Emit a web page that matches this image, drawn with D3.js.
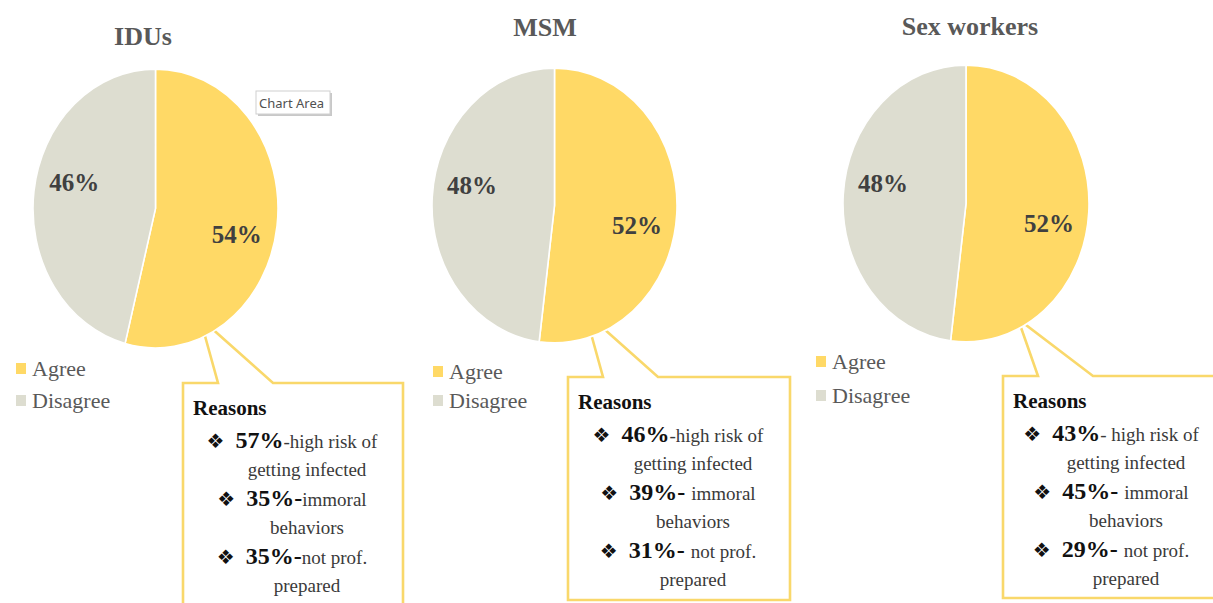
<!DOCTYPE html>
<html>
<head>
<meta charset="utf-8">
<script src="https://cdn.jsdelivr.net/npm/d3@7"></script>
<style>
  html, body { margin: 0; padding: 0; background: #fff; }
  svg { display: block; }
</style>
</head>
<body>
<svg id="chart" width="1213" height="603"></svg>
<script>
// ---- data ----
const groups = ["IDUs", "MSM", "Sex workers"];
const categories = ["Agree", "Disagree"];
const agreeValues = [54, 52, 52];
const disagreeValues = [46, 48, 48];

const reasonTitle = "Reasons";
// each reason wrapped onto two lines
const reasonLines = [
  ["high risk of", "getting infected"],
  ["immoral", "behaviors"],
  ["not prof.", "prepared"]
];
const reasonValues = [
  [57, 35, 35],
  [46, 39, 31],
  [43, 45, 29]
];

// ---- layout (per panel) ----
const panels = [
  { cx: 155.5, cy: 208.5, rx: 122.5, ry: 139.5, titleX: 143, titleY: 45,
    legX: 16, legY: [376, 408],
    box: { x: 183, y: 383, w: 220, h: 240, tip: [200, 318] },
    sep: ["-", "-", "-"], sepBold: [false, true, true] },
  { cx: 554.5, cy: 205.5, rx: 122.5, ry: 137.5, titleX: 545, titleY: 36,
    legX: 433, legY: [379, 408],
    box: { x: 568, y: 377, w: 222, h: 223, tip: [585, 312] },
    sep: ["-", "- ", "- "], sepBold: [false, true, true] },
  { cx: 966, cy: 203.5, rx: 123, ry: 138.5, titleX: 970, titleY: 35,
    legX: 816, legY: [369, 403],
    box: { x: 1003, y: 376, w: 218, h: 222, tip: [1018, 319] },
    sep: ["- ", "- ", "- "], sepBold: [false, true, true] }
];

const color = d3.scaleOrdinal().domain(categories).range(["#FFD966", "#DDDDD0"]);
const serif = "'Liberation Serif', 'Times New Roman', serif";

const svg = d3.select("#chart");
const pie = d3.pie().sort(null).value(d => d.value);

groups.forEach((g, i) => {
  const p = panels[i];
  const layer = svg.append("g").attr("class", "panel");
  const values = [
    { cat: categories[0], value: agreeValues[i] },
    { cat: categories[1], value: disagreeValues[i] }
  ];

  // callout box with pointer (drawn first, pie sits over the tip)
  const b = p.box;
  const callout = d3.path();
  callout.moveTo(b.x, b.y);
  callout.lineTo(b.x + 35, b.y);
  callout.lineTo(b.tip[0], b.tip[1]);
  callout.lineTo(b.x + 90, b.y);
  callout.lineTo(b.x + b.w, b.y);
  callout.lineTo(b.x + b.w, b.y + b.h);
  callout.lineTo(b.x, b.y + b.h);
  callout.closePath();
  layer.append("path")
    .attr("d", callout.toString())
    .attr("fill", "#fff")
    .attr("stroke", "#F9D86B")
    .attr("stroke-width", 2.6)
    .attr("stroke-linejoin", "miter");

  // callout text
  layer.append("text")
    .attr("x", b.x + 10).attr("y", b.y + 32)
    .attr("font-family", serif).attr("font-weight", "bold")
    .attr("font-size", 21).attr("fill", "#111")
    .text(reasonTitle);

  reasonLines.forEach((lines, k) => {
    const by = b.y + 65 + k * 58;
    const t = layer.append("text")
      .attr("x", b.x + b.w / 2 - 1).attr("y", by)
      .attr("text-anchor", "middle")
      .attr("font-family", serif);
    t.append("tspan")
      .attr("font-family", "'DejaVu Sans', sans-serif")
      .attr("font-size", 20).attr("fill", "#111")
      .text("\u2756");
    t.append("tspan")
      .attr("dx", 11)
      .attr("font-weight", "bold").attr("font-size", 24).attr("fill", "#111")
      .text(reasonValues[i][k] + "%" + (p.sepBold[k] ? p.sep[k] : ""));
    t.append("tspan")
      .attr("font-size", 19).attr("fill", "#3a3a3a")
      .text((p.sepBold[k] ? "" : p.sep[k]) + lines[0]);
    layer.append("text")
      .attr("x", b.x + b.w / 2 + 14).attr("y", by + 28)
      .attr("text-anchor", "middle")
      .attr("font-family", serif).attr("font-size", 19).attr("fill", "#3a3a3a")
      .text(lines[1]);
  });

  // pie (elliptical: radius = ry, horizontally scaled)
  const arc = d3.arc().innerRadius(0).outerRadius(p.ry);
  const pg = layer.append("g")
    .attr("transform", `translate(${p.cx},${p.cy}) scale(${p.rx / p.ry},1)`);
  const arcs = pie(values);
  pg.selectAll("path").data(arcs).join("path")
    .attr("d", arc)
    .attr("fill", d => color(d.data.cat))
    .attr("stroke", "#fff")
    .attr("stroke-width", 1.8);

  // value labels
  layer.selectAll("text.val").data(arcs).join("text")
    .attr("class", "val")
    .attr("x", d => {
      const a = (d.startAngle + d.endAngle) / 2 + 0.15;
      return p.cx + 0.69 * p.rx * Math.sin(a);
    })
    .attr("y", d => {
      const a = (d.startAngle + d.endAngle) / 2 + 0.15;
      return p.cy - 0.69 * p.ry * Math.cos(a);
    })
    .attr("text-anchor", "middle")
    .attr("dominant-baseline", "central")
    .attr("font-family", serif).attr("font-weight", "bold")
    .attr("font-size", 25).attr("fill", "#404040")
    .text(d => d.data.value + "%");

  // title
  layer.append("text")
    .attr("x", p.titleX).attr("y", p.titleY)
    .attr("text-anchor", "middle")
    .attr("font-family", serif).attr("font-weight", "bold")
    .attr("font-size", 26).attr("fill", "#595959")
    .text(g);

  // legend
  categories.forEach((c, k) => {
    layer.append("rect")
      .attr("x", p.legX).attr("y", p.legY[k] - 13)
      .attr("width", 10).attr("height", 11)
      .attr("fill", color(c));
    layer.append("text")
      .attr("x", p.legX + 16).attr("y", p.legY[k])
      .attr("font-family", serif).attr("font-size", 22).attr("fill", "#595959")
      .text(c);
  });
});

// hover tooltip left over on the first panel
const tip = svg.append("g").attr("transform", "translate(256,91)");
tip.append("rect").attr("x", 2).attr("y", 2).attr("width", 74).attr("height", 23)
  .attr("fill", "#c8c8c8");
tip.append("rect").attr("x", 0).attr("y", 0).attr("width", 74).attr("height", 23)
  .attr("fill", "#fff").attr("stroke", "#cfcfcf").attr("stroke-width", 1);
tip.append("text").attr("x", 3).attr("y", 17)
  .attr("font-family", "'Noto Sans', 'Open Sans', sans-serif")
  .attr("font-size", 13).attr("fill", "#505050")
  .text("Chart Area");
</script>
</body>
</html>
